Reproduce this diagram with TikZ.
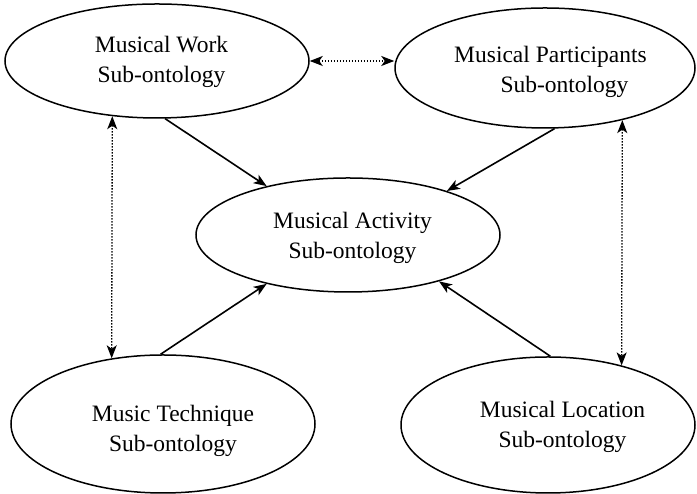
\documentclass[tikz,border=0pt]{standalone}
\usepackage{fontspec}
\setmainfont{Liberation Serif}
\usetikzlibrary{arrows.meta,shapes.geometric}
\tikzset{
    onto/.style={
           ellipse,
           draw=black, line width=1.5pt,
           inner sep=0pt,
           },
    caption/.style={
           align=center,
           font=\fontsize{23.5}{30}\selectfont,
           },
    link/.style={->, line width=1.6pt},
    peer/.style={<->, line width=1.3pt, dash pattern=on 1.5pt off 1.5pt},
}

\begin{document}
\begin{tikzpicture}[x=1pt,y=1pt,>={Stealth[length=13pt,width=10pt,inset=3.5pt]}]
    \useasboundingbox (0,0) rectangle (697,494);

    % the five sub-ontologies
    \node[onto,minimum width=304pt,minimum height=114pt] (work) at (157,433) {};
    \node[onto,minimum width=300pt,minimum height=120pt] (part) at (545,426) {};
    \node[onto,minimum width=304pt,minimum height=114pt] (act)  at (348,259) {};
    \node[onto,minimum width=304pt,minimum height=138pt] (tech) at (163,70) {};
    \node[onto,minimum width=294pt,minimum height=136pt] (loc)  at (548,69) {};

    \node[caption] (workT) at (161.5,432.5) {Musical Work\\Sub-ontology};
    \node[caption] (partT) at (550.5,422) {Musical Participants\\\hspace*{28pt}Sub-ontology};
    \node[caption] (actT)  at (352.5,256) {Musical Activity\\Sub-ontology};
    \node[caption] (techT) at (173,63.5) {Music Technique\\Sub-ontology};
    \node[caption] (locT)  at (562.5,67) {Musical Location\\Sub-ontology};

    % everything feeds the activity
    \draw[link] (work.-82) -- (act.149);
    \draw[link] (part.-81) -- (act.24);
    \draw[link] (tech.92)  -- (act.211);
    \draw[link] (loc.88)   -- (act.-27);

    % peer relations
    \draw[peer] (work.east) -- (work.east -| part.west);
    \draw[peer] (work.-129) -- (tech.128);
    \draw[peer] (part.-34)  -- (loc.39);

\end{tikzpicture}
\end{document}
